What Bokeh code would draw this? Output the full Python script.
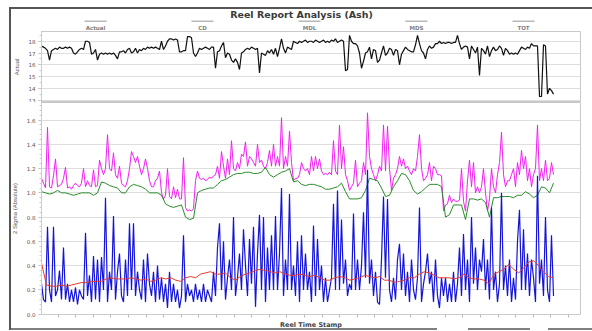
import numpy as np
from bokeh.plotting import figure
from bokeh.models import (Range1d, Label, SingleIntervalTicker, FixedTicker,
                          NumeralTickFormatter)
from bokeh.layouts import column
from bokeh.embed import file_html
from bokeh.resources import INLINE

# ---------------- data ----------------
title_text = "Reel Report Analysis (Ash)"
legend_names = ["Actual", "CD", "MDL", "MDS", "TOT"]

actual = [
    17.6, 17.5, 17.4, 17.2, 16.4, 17.2, 17.3, 17.4, 17.3, 17.5,
    17.4, 17.4, 17.5, 17.4, 17.5, 17.4, 17.0, 16.9, 17.1, 17.3,
    17.4, 17.3, 18.0, 18.0, 17.9, 16.9, 17.0, 17.3, 16.4, 16.9,
    17.0, 16.9, 17.0, 16.9, 17.0, 16.9, 17.0, 16.8, 16.5, 17.1,
    17.1, 17.2, 17.0, 17.3, 17.4, 17.0, 17.1, 17.4, 17.0, 17.3,
    17.2, 17.4, 17.3, 17.5, 17.4, 17.5, 17.4, 17.5, 17.4, 17.3,
    18.0, 17.3, 17.6, 18.0, 18.2, 18.2, 18.1, 18.2, 18.1, 17.1,
    17.1, 17.2, 17.2, 18.4, 18.4, 18.3, 17.0, 16.7, 17.0, 17.4,
    17.3, 17.4, 17.5, 17.4, 17.3, 17.5, 17.5, 15.7, 17.1, 17.2,
    17.6, 17.9, 16.6, 17.0, 16.9, 16.4, 16.2, 16.5, 16.2, 15.6,
    17.0, 17.1, 17.3, 17.4, 17.3, 17.5, 17.4, 17.3, 17.4, 15.3,
    17.0, 16.9, 16.8, 17.2, 17.0, 17.3, 16.9, 17.4, 16.7, 17.4,
    18.2, 17.4, 17.0, 17.5, 17.4, 17.3, 18.0, 17.9, 17.8, 18.0,
    17.9, 18.0, 18.1, 17.9, 18.0, 18.0, 17.9, 18.1, 18.0, 17.9,
    18.0, 18.1, 17.9, 18.0, 17.9, 18.1, 18.0, 18.2, 17.9, 18.0,
    18.1, 18.0, 15.5, 15.6, 18.5, 18.0, 17.8, 17.8, 17.6, 17.0,
    15.7, 16.3, 17.0, 17.1, 17.5, 16.5, 17.3, 17.2, 16.2, 16.4,
    17.0, 17.6, 16.8, 17.0, 17.4, 17.3, 16.8, 17.3, 17.2, 16.0,
    16.9, 17.2, 17.5, 17.3, 17.2, 17.1, 17.1, 17.7, 18.5, 17.8,
    17.2, 17.0, 16.5, 17.3, 17.6, 17.4, 17.5, 17.8, 17.8, 18.0,
    17.8, 17.9, 17.8, 17.9, 17.9, 17.8, 17.9, 17.9, 18.5, 17.8,
    17.3, 17.5, 17.6, 17.5, 16.5, 17.6, 17.3, 17.0, 17.5, 15.1,
    17.4, 17.2, 16.9, 17.6, 16.7, 17.2, 17.5, 17.2, 17.3, 17.6,
    17.4, 16.8, 17.4, 17.2, 16.9, 17.0, 16.9, 17.0, 16.9, 17.2,
    17.5, 17.4, 17.3, 17.5, 17.4, 17.8, 17.6, 17.6, 17.6, 13.3,
    13.3, 17.7, 17.6, 13.5, 14.0, 13.8, 13.5,
]

sigma_magenta = [
    1.12, 1.08, 1.04, 1.54, 1.05, 1.04, 1.14, 1.28, 1.05, 1.06,
    1.07, 1.12, 1.21, 1.04, 1.05, 1.03, 1.06, 1.08, 1.06, 1.05,
    1.08, 1.20, 1.05, 1.10, 1.06, 1.05, 1.19, 1.05, 1.06, 1.27,
    1.20, 1.15, 1.20, 1.48, 1.20, 1.18, 1.33, 1.15, 1.12, 1.22,
    1.08, 1.06, 1.05, 1.10, 1.20, 1.34, 1.30, 1.25, 1.30, 1.22,
    1.15, 1.20, 1.28, 1.20, 1.10, 1.05, 1.05, 1.10, 1.12, 1.18,
    1.00, 0.95, 0.98, 1.20, 0.97, 0.95, 1.05, 0.96, 1.03, 0.95,
    0.95, 1.29, 0.88, 0.85, 0.86, 0.85, 0.87, 1.10, 1.18, 1.12,
    1.11, 1.12, 1.10, 1.11, 1.13, 1.12, 1.14, 1.15, 1.22, 1.12,
    1.34, 1.22, 1.12, 1.28, 1.15, 1.43, 1.20, 1.18, 1.25, 1.20,
    1.32, 1.30, 1.42, 1.22, 1.30, 1.28, 1.25, 1.22, 1.40, 1.25,
    1.27, 1.22, 1.20, 1.25, 1.35, 1.22, 1.40, 1.22, 1.30, 1.22,
    1.62, 1.20, 1.30, 1.22, 1.51, 1.25, 1.10, 1.12, 1.12, 1.15,
    1.25, 1.20, 1.18, 1.20, 1.15, 1.30, 1.18, 1.30, 1.20, 1.28,
    1.18, 1.15, 1.16, 1.15, 1.17, 1.15, 1.43, 1.18, 1.15, 1.56,
    1.20, 1.38, 1.15, 1.10, 1.02, 1.05, 1.08, 1.27, 1.05, 1.08,
    1.10, 1.25, 1.15, 1.66, 1.30, 1.20, 1.15, 1.10, 1.15, 1.22,
    1.18, 1.56, 1.18, 1.55, 1.20, 1.02, 1.12, 1.15, 1.20, 1.30,
    1.22, 1.28, 1.20, 1.22, 1.18, 1.15, 1.20, 1.18, 1.30, 1.48,
    1.20, 1.10, 1.12, 1.15, 1.25, 1.10, 1.22, 1.20, 1.15, 1.15,
    1.14, 0.85, 0.90, 0.91, 0.98, 0.92, 0.95, 0.93, 0.93, 0.94,
    1.20, 0.93, 0.85, 1.10, 1.27, 1.05, 1.25, 1.00, 1.05, 1.00,
    1.05, 1.20, 1.00, 0.85, 0.95, 1.20, 1.05, 1.00, 1.15, 1.25,
    1.50, 1.15, 1.05, 1.10, 1.10, 1.15, 1.20, 1.05, 1.25, 1.15,
    1.35, 1.20, 1.30, 1.10, 1.20, 1.05, 1.15, 1.20, 1.56, 1.10,
    1.20, 1.10, 1.27, 1.10, 1.12, 1.25, 1.15,
]

sigma_green = [
    1.01, 1.00, 0.99, 1.00, 1.02, 1.00, 1.00, 0.99, 0.98, 0.99,
    1.00, 1.00, 1.00, 0.98, 1.00, 1.09, 1.08, 1.06, 1.05, 1.04,
    1.00, 1.00, 1.05, 1.07, 1.06, 1.05, 1.03, 1.00, 1.00, 1.00,
    0.98, 0.91, 0.89, 0.88, 0.89, 0.90, 0.80, 0.78, 0.79, 1.00,
    1.02, 1.03, 1.04, 1.04, 1.07, 1.10, 1.11, 1.13, 1.15, 1.16,
    1.16, 1.17, 1.17, 1.16, 1.16, 1.17, 1.21, 1.15, 1.13, 1.15,
    1.17, 1.18, 1.20, 1.09, 1.10, 1.07, 1.06, 1.07, 1.07, 1.06,
    1.05, 1.03, 1.03, 1.04, 1.05, 1.08, 1.01, 0.95, 0.95, 0.95,
    0.96, 1.02, 1.12, 1.11, 1.10, 1.04, 0.97, 0.98, 1.05, 1.10,
    1.16, 1.15, 1.10, 1.02, 0.99, 1.01, 1.04, 1.07, 1.07, 1.07,
    1.05, 0.80, 0.82, 0.90, 0.90, 0.90, 0.78, 0.95, 0.95, 0.94,
    0.95, 0.92, 0.80, 0.96, 0.96, 0.97, 0.97, 0.97, 0.96, 0.98,
    0.98, 1.01, 0.99, 0.96, 0.98, 1.05, 1.04, 1.00, 1.08,
]

sigma_blue = [
    0.25, 0.12, 0.10, 0.72, 0.20, 0.10, 0.72, 0.15, 0.20, 0.36,
    0.12, 0.55, 0.12, 0.25, 0.10, 0.20, 0.10, 0.22, 0.08, 0.20,
    0.15, 0.12, 0.67, 0.15, 0.32, 0.10, 0.48, 0.12, 0.45, 0.10,
    0.47, 0.20, 0.96, 0.10, 0.35, 0.20, 0.81, 0.12, 0.35, 0.50,
    0.15, 0.10, 0.45, 0.15, 0.75, 0.20, 0.75, 0.15, 0.35, 0.20,
    0.12, 0.45, 0.10, 0.50, 0.25, 0.15, 0.35, 0.10, 0.40, 0.12,
    0.30, 0.10, 0.25, 0.05, 0.35, 0.10, 0.25, 0.10, 0.20, 0.05,
    0.15, 0.65, 0.10, 0.25, 0.15, 0.20, 0.10, 0.25, 0.12, 0.20,
    0.10, 0.25, 0.10, 0.20, 0.15, 0.10, 0.35, 0.15, 0.55, 0.75,
    0.20, 0.60, 0.12, 0.30, 0.45, 0.20, 0.80, 0.15, 0.30, 0.50,
    0.20, 0.70, 0.40, 0.15, 0.62, 0.25, 0.72, 0.06, 0.50, 0.82,
    0.20, 0.80, 0.10, 0.55, 0.20, 0.65, 0.20, 0.81, 0.20, 0.50,
    1.04, 0.15, 0.45, 0.20, 0.99, 0.20, 0.40, 0.15, 0.60, 0.10,
    0.65, 0.20, 0.50, 0.20, 0.35, 0.10, 0.73, 0.15, 0.62, 0.20,
    0.40, 0.10, 0.30, 0.10, 0.20, 0.30, 0.91, 0.20, 1.02, 0.20,
    0.78, 0.25, 0.45, 0.15, 0.25, 0.20, 0.83, 0.20, 0.45, 0.20,
    0.40, 0.84, 0.30, 1.19, 0.25, 0.45, 0.15, 0.35, 0.10, 0.08,
    0.45, 0.97, 0.30, 0.95, 0.20, 0.10, 0.30, 0.12, 0.45, 0.58,
    0.20, 0.50, 0.15, 0.35, 0.10, 0.45, 0.20, 0.12, 0.30, 0.88,
    0.10, 0.25, 0.35, 0.50, 0.25, 0.35, 0.10, 0.45, 0.15, 0.05,
    0.30, 0.15, 0.30, 0.10, 0.25, 0.10, 0.35, 0.10, 0.25, 0.55,
    0.15, 0.66, 0.20, 0.45, 0.10, 0.80, 0.25, 0.55, 0.20, 0.45,
    0.35, 0.62, 0.20, 0.45, 0.12, 0.88, 0.20, 0.35, 0.10, 0.25,
    1.00, 0.20, 0.40, 0.15, 0.45, 0.10, 0.30, 0.12, 0.60, 0.86,
    0.20, 0.70, 0.20, 0.50, 0.15, 0.45, 0.30, 0.10, 1.14, 0.25,
    0.45, 0.15, 0.80, 0.20, 0.10, 0.65, 0.15,
]

sigma_red = [
    0.42, 0.24, 0.23, 0.23, 0.24, 0.23, 0.24, 0.25, 0.26, 0.26,
    0.27, 0.27, 0.27, 0.29, 0.30, 0.29, 0.29, 0.29, 0.30, 0.29,
    0.28, 0.29, 0.27, 0.28, 0.30, 0.29, 0.30, 0.28, 0.27, 0.30,
    0.31, 0.30, 0.33, 0.34, 0.35, 0.33, 0.33, 0.34, 0.30, 0.28,
    0.31, 0.33, 0.34, 0.36, 0.37, 0.36, 0.35, 0.34, 0.35, 0.33,
    0.32, 0.32, 0.33, 0.32, 0.31, 0.32, 0.30, 0.28, 0.28, 0.30,
    0.31, 0.30, 0.28, 0.29, 0.30, 0.32, 0.31, 0.30, 0.31, 0.28,
    0.28, 0.26, 0.27, 0.28, 0.30, 0.30, 0.33, 0.35, 0.34, 0.32,
    0.30, 0.30, 0.30, 0.29, 0.30, 0.33, 0.30, 0.29, 0.29, 0.28,
    0.25, 0.33, 0.35, 0.37, 0.41, 0.37, 0.34, 0.38, 0.43, 0.44,
    0.40, 0.35, 0.31, 0.30,
]

# ---------------- layout constants ----------------
SPAN = 512          # time-stamp span covered by the samples
X_END = 539         # end of the axis range
FRAME_LEFT = 41
FRAME_RIGHT = 580
W = 592


def xs(arr):
    return np.linspace(0, SPAN, len(arr))


def style_common(p, ylabel):
    p.outline_line_color = "#c8c8c8"
    p.background_fill_color = "white"
    p.border_fill_alpha = 0
    p.xgrid.visible = False
    p.ygrid.grid_line_color = "#dedede"
    p.ygrid.grid_line_width = 1
    ax = p.yaxis[0]
    ax.axis_label = ylabel
    ax.axis_label_text_font = "Liberation Sans"
    ax.axis_label_text_font_size = "6px"
    ax.axis_label_text_font_style = "normal"
    ax.axis_label_text_color = "#555555"
    ax.axis_label_standoff = 6
    ax.major_label_text_font = "DejaVu Sans"
    ax.major_label_text_font_size = "5.5px"
    ax.major_label_text_color = "#555555"
    ax.major_label_standoff = 3
    ax.axis_line_color = "#cccccc"
    ax.major_tick_line_color = "#b5b5b5"
    ax.minor_tick_line_color = "#cccccc"
    ax.major_tick_out = 3
    ax.major_tick_in = 0
    ax.minor_tick_out = 2
    ax.minor_tick_in = 0


# ---------------- header: title + legend (page-pixel coordinates) ----------------
p0 = figure(width=W, height=31, title=None, x_axis_location=None, y_axis_location=None,
            x_range=Range1d(FRAME_LEFT, FRAME_RIGHT), y_range=Range1d(31, 0),
            min_border_left=FRAME_LEFT, min_border_right=W - FRAME_RIGHT,
            min_border_top=0, min_border_bottom=0,
            output_backend="svg", toolbar_location=None)
p0.grid.visible = False
p0.outline_line_color = None
p0.background_fill_alpha = 0
p0.border_fill_alpha = 0
p0.add_layout(Label(x=301, y=13.5, text=title_text, text_align="center",
                    text_baseline="middle", text_font="DejaVu Sans",
                    text_font_size="9.5px", text_font_style="bold",
                    text_color="#3a3a3a"))
centers = [95 + 107 * k for k in range(len(legend_names))]
p0.segment(x0=[c - 11 for c in centers], y0=[20.7] * len(centers),
           x1=[c + 11 for c in centers], y1=[20.7] * len(centers),
           line_color="#b8b8b8", line_width=1.4)
for c, name in zip(centers, legend_names):
    p0.add_layout(Label(x=c, y=27.8, text=name, text_align="center",
                        text_baseline="middle", text_font="DejaVu Sans",
                        text_font_size="5.5px", text_font_style="bold",
                        text_color="#808080"))

# ---------------- top panel ----------------
p1 = figure(width=W, height=71, title=None, x_axis_location=None,
            x_range=Range1d(0, X_END), y_range=Range1d(12.79, 18.83),
            min_border_left=FRAME_LEFT, min_border_right=W - FRAME_RIGHT,
            min_border_top=0, min_border_bottom=0,
            output_backend="svg", toolbar_location=None)
style_common(p1, "Actual")
p1.yaxis[0].ticker = SingleIntervalTicker(interval=1, num_minor_ticks=2)
p1.line(xs(actual), actual, line_color="#111111", line_width=1.2)

# ---------------- bottom panel ----------------
p2 = figure(width=W, height=229, title=None,
            x_range=p1.x_range, y_range=Range1d(-0.003, 1.745),
            min_border_left=FRAME_LEFT, min_border_right=W - FRAME_RIGHT,
            min_border_top=0, min_border_bottom=17,
            output_backend="svg", toolbar_location=None)
style_common(p2, "2 Sigma (Absolute)")
p2.yaxis[0].ticker = SingleIntervalTicker(interval=0.2, num_minor_ticks=5)
p2.yaxis[0].formatter = NumeralTickFormatter(format="0.0")
xa = p2.xaxis[0]
xa.ticker = FixedTicker(ticks=[], minor_ticks=list(np.arange(-1, X_END, 17.6)))
xa.axis_label = "Reel Time Stamp"
xa.axis_label_text_font = "DejaVu Sans"
xa.axis_label_text_font_size = "6.5px"
xa.axis_label_text_font_style = "bold"
xa.axis_label_text_color = "#444444"
xa.axis_label_standoff = 3
xa.axis_line_color = "#cccccc"
xa.minor_tick_line_color = "#bbbbbb"
xa.minor_tick_out = 3
xa.minor_tick_in = 0

p2.line(xs(sigma_magenta), sigma_magenta, line_color="#f020f0", line_width=1)
p2.line(xs(sigma_green), sigma_green, line_color="#2a8a2a", line_width=1)
p2.line(xs(sigma_blue), sigma_blue, line_color="#1414d8", line_width=1.2)
p2.line(xs(sigma_red), sigma_red, line_color="#e83a2a", line_width=1)

# report frame (top, left and bottom edges) painted behind the transparent margins
frame_css = {
    "background-color": "white",
    "background-image": ("linear-gradient(#555,#555), linear-gradient(#555,#555), "
                         "linear-gradient(#808080,#808080), linear-gradient(#808080,#808080), "
                         "linear-gradient(#808080,#808080)"),
    "background-size": "582px 2px, 2px 323px, 427px 2px, 62px 2px, 44px 2px",
    "background-position": "10px 7px, 9px 7px, 10px 328px, 468px 328px, 548px 328px",
    "background-repeat": "no-repeat",
}
layout = column(p0, p1, p2, spacing=0, styles=frame_css)
open("out.html", "w").write(file_html(layout, INLINE))
